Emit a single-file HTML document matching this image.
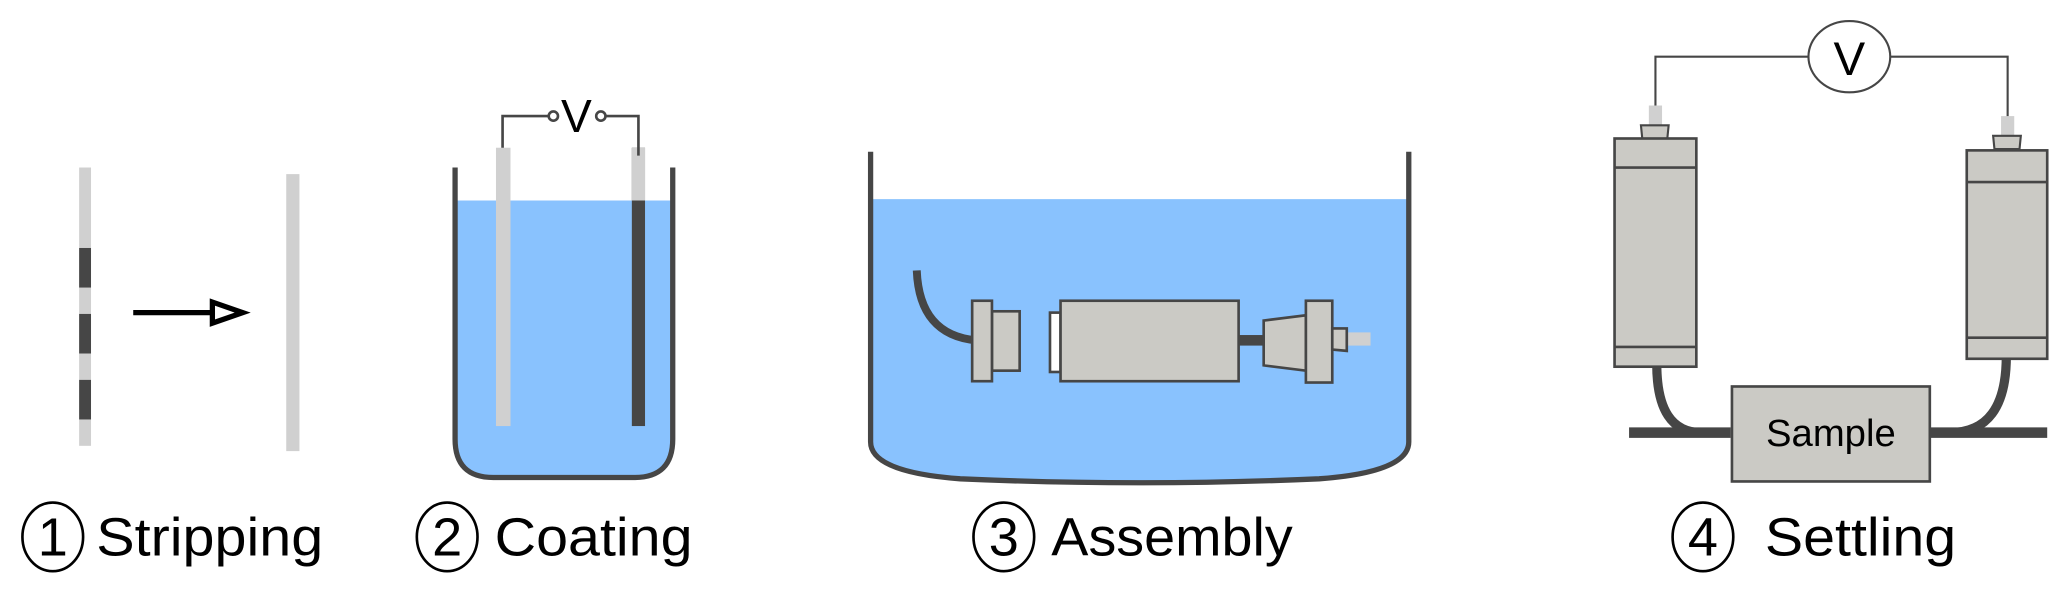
<!DOCTYPE html>
<html><head><style>html,body{margin:0;padding:0;background:#fff}svg{display:block}</style></head>
<body>
<svg width="2067" height="616" viewBox="0 0 1567 467" preserveAspectRatio="none" xmlns="http://www.w3.org/2000/svg" font-family="Liberation Sans, Arial, sans-serif">
<rect width="1567" height="467" fill="#fff"/>
<!-- Stage 1 -->
<rect x="60" y="127" width="9" height="211" fill="#d0d0d0"/>
<rect x="60" y="188" width="9" height="30" fill="#464646"/>
<rect x="60" y="238" width="9" height="30" fill="#464646"/>
<rect x="60" y="288" width="9" height="30" fill="#464646"/>
<line x1="101" y1="237" x2="162" y2="237" stroke="#000" stroke-width="4"/>
<polygon points="161,229 184,237 161,245" fill="#fff" stroke="#000" stroke-width="4"/>
<rect x="217" y="132" width="10" height="210" fill="#d0d0d0"/>
<!-- Stage 2 -->
<path d="M346,152 L509,152 L509,333 Q509,361 481,361 L374,361 Q346,361 346,333 Z" fill="#89c2fe"/>
<path d="M345,127 L345,333 Q345,362 374,362 L481,362 Q510,362 510,333 L510,127" fill="none" stroke="#464646" stroke-width="4"/>
<rect x="376" y="112" width="11" height="211" fill="#d0d0d0"/>
<rect x="479" y="112" width="10" height="211" fill="#464646"/>
<rect x="479" y="112" width="10" height="40" fill="#d0d0d0"/>
<polyline points="381,112 381,88 416,88" fill="none" stroke="#464646" stroke-width="2"/>
<polyline points="459,88 484,88 484,118" fill="none" stroke="#464646" stroke-width="2"/>
<circle cx="419.5" cy="88" r="3.5" fill="#fff" stroke="#464646" stroke-width="2"/>
<circle cx="455.5" cy="88" r="3.5" fill="#fff" stroke="#464646" stroke-width="2"/>
<text x="437" y="100" font-size="35" text-anchor="middle" fill="#000">V</text>
<!-- Stage 3 -->
<path d="M661,151 L1067,151 L1067,335 Q1067,356 1000,362 Q864,368 728,362 Q661,356 661,335 Z" fill="#89c2fe"/>
<path d="M660,115 L660,335 Q660,358 728,363 Q864,369 1000,363 Q1068,358 1068,335 L1068,115" fill="none" stroke="#464646" stroke-width="4"/>
<path d="M695,205 Q697,254 740,258" fill="none" stroke="#464646" stroke-width="6"/>
<rect x="752" y="236" width="21" height="45" fill="#cbcac5" stroke="#464646" stroke-width="2"/>
<rect x="737" y="228" width="15" height="61" fill="#cbcac5" stroke="#464646" stroke-width="2"/>
<rect x="796" y="237" width="8" height="45" fill="#fff" stroke="#464646" stroke-width="2"/>
<rect x="939" y="254" width="20" height="8" fill="#464646"/>
<rect x="804" y="228" width="135" height="61" fill="#cbcac5" stroke="#464646" stroke-width="2"/>
<polygon points="958,243 990,239 990,281 958,277" fill="#cbcac5" stroke="#464646" stroke-width="2"/>
<rect x="990" y="228" width="20" height="62" fill="#cbcac5" stroke="#464646" stroke-width="2"/>
<rect x="1022" y="252" width="17" height="10" fill="#d0d0d0"/>
<polygon points="1010,249 1021,249 1021,266 1010,265" fill="#cbcac5" stroke="#464646" stroke-width="2"/>
<!-- Stage 4 -->
<polyline points="1255,82 1255,43 1371,43" fill="none" stroke="#464646" stroke-width="1.6"/>
<polyline points="1433,43 1522,43 1522,90" fill="none" stroke="#464646" stroke-width="1.6"/>
<ellipse cx="1402" cy="43" rx="31" ry="27" fill="#fff" stroke="#464646" stroke-width="1.6"/>
<text x="1402" y="57" font-size="36" text-anchor="middle" fill="#000">V</text>
<rect x="1250" y="80" width="10" height="15" fill="#d0d0d0"/>
<polygon points="1244,95 1265,95 1264,105 1245,105" fill="#cbcac5" stroke="#464646" stroke-width="1.6"/>
<rect x="1517" y="88" width="10" height="15" fill="#d0d0d0"/>
<polygon points="1511,103 1532,103 1531,113 1512,113" fill="#cbcac5" stroke="#464646" stroke-width="1.6"/>
<path d="M1235,328 L1312,328 M1463,328 L1552,328" stroke="#464646" stroke-width="8"/>
<path d="M1256,276 Q1256,328 1290,328" fill="none" stroke="#464646" stroke-width="7"/>
<path d="M1521,270 Q1521,328 1478,328" fill="none" stroke="#464646" stroke-width="7"/>
<rect x="1224" y="105" width="62" height="173" fill="#cbcac5" stroke="#464646" stroke-width="2"/>
<line x1="1224" y1="127" x2="1286" y2="127" stroke="#464646" stroke-width="2"/>
<line x1="1224" y1="263" x2="1286" y2="263" stroke="#464646" stroke-width="2"/>
<rect x="1491" y="114" width="61" height="158" fill="#cbcac5" stroke="#464646" stroke-width="2"/>
<line x1="1491" y1="138" x2="1552" y2="138" stroke="#464646" stroke-width="2"/>
<line x1="1491" y1="256" x2="1552" y2="256" stroke="#464646" stroke-width="2"/>
<rect x="1313" y="293" width="150" height="72" fill="#cbcac5" stroke="#464646" stroke-width="2"/>
<text x="1388" y="338" font-size="29" text-anchor="middle" fill="#000">Sample</text>
<!-- Labels -->
<g fill="none" stroke="#000" stroke-width="2">
<ellipse cx="40" cy="407" rx="23" ry="26"/>
<ellipse cx="339" cy="407" rx="23" ry="26"/>
<ellipse cx="761" cy="407" rx="23" ry="26"/>
<ellipse cx="1291" cy="407" rx="23" ry="26"/>
</g>
<g font-size="41" fill="#000">
<text x="40" y="421" text-anchor="middle">1</text>
<text x="339" y="421" text-anchor="middle">2</text>
<text x="761" y="421" text-anchor="middle">3</text>
<text x="1291" y="421" text-anchor="middle">4</text>
<text x="73" y="421" textLength="172" lengthAdjust="spacingAndGlyphs">Stripping</text>
<text x="375" y="421" textLength="150" lengthAdjust="spacingAndGlyphs">Coating</text>
<text x="797" y="421" textLength="183" lengthAdjust="spacingAndGlyphs">Assembly</text>
<text x="1338" y="421" textLength="145" lengthAdjust="spacingAndGlyphs">Settling</text>
</g>
</svg>
</body></html>
